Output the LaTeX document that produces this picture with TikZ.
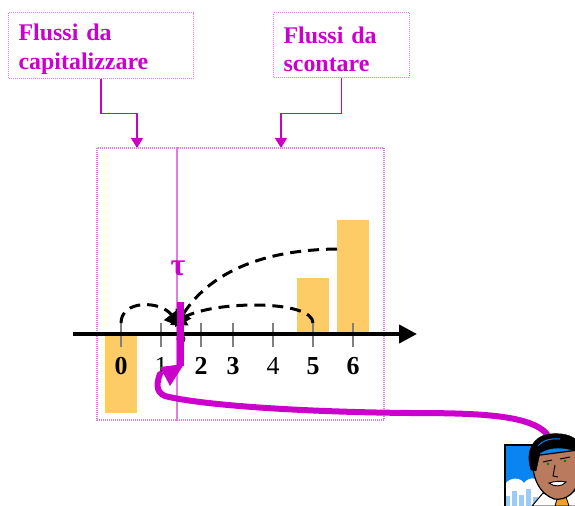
\documentclass[tikz,border=0pt]{standalone}
\usepackage{fontspec}
\setmainfont{Liberation Serif}
\usetikzlibrary{arrows.meta}

\definecolor{viola}{HTML}{CC00CC}
\definecolor{violachiaro}{HTML}{E47BE4}
\definecolor{arancio}{HTML}{FDCC66}
\definecolor{cielo}{HTML}{0A84F0}
\definecolor{azzurro}{HTML}{9CCBF5}
\definecolor{pelle}{HTML}{B97A5E}
\definecolor{cravatta}{HTML}{F0A020}

\tikzset{
  etichetta/.style={draw=violachiaro, line width=1.2bp, dash pattern=on 1bp off 1bp,
    text=viola, font=\fontsize{24}{29}\selectfont\bfseries, align=left,
    anchor=north west, inner xsep=10bp, minimum height=65bp},
  freccia/.style={viola, line width=1.3bp, -{Triangle[length=10bp,width=12bp]}},
  regione/.style={draw=violachiaro, line width=1.2bp, dash pattern=on 1bp off 1bp},
  barra/.style={fill=arancio},
  arco/.style={black, line width=3bp, dash pattern=on 11bp off 7bp,
    -{Triangle[length=16bp,width=18bp]}},
  tacca/.style={gray, line width=2bp},
  numero/.style={font=\fontsize{26}{26}\selectfont},
}

\begin{document}
\begin{tikzpicture}[x=1bp, y=-1bp]
\useasboundingbox (0,0) rectangle (575,506);

% caselle in alto
\node[etichetta, text width=165bp] (cap) at (8,12) {\rule{0pt}{25bp}Flussi da\\capitalizzare};
\node[etichetta, text width=116bp] (sco) at (273,12) {\rule{0pt}{25bp}Flussi da\\scontare};

\coordinate (tcap) at (137,148);
\coordinate (tsco) at (281,148);
\draw[freccia] (cap.south) -- ++(0,35) -| (tcap);
\draw[freccia] (sco.south) -- ++(0,35) -| (tsco);

% flussi
\fill[barra] (105,334) rectangle (137,413);
\fill[barra] (297,278) rectangle (329,334);
\fill[barra] (337,220) rectangle (369,334);

\draw[regione] (97,148) rectangle (177,420);
\draw[regione] (177,148) rectangle (384,420);

% asse dei tempi
\foreach \n/\x/\peso in {0/121/\bfseries, 1/161/\mdseries, 2/201/\bfseries,
    3/233/\bfseries, 4/273/\mdseries, 5/313/\bfseries, 6/353/\bfseries} {
  \coordinate (t\n) at (\x,323);
  \draw[tacca] (t\n) -- (\x,347);
  \node[numero] (n\n) at (\x,366) {\peso\n};
}
\draw[line width=4bp, -{Triangle[length=18bp,width=18bp]}] (73,334) -- (417,334);

\coordinate (c6) at (337,249);
\draw[arco] (t0) .. controls (121,300) and (160,300) .. (181,327);
\draw[arco] (t5) .. controls (313,300) and (215,300) .. (170,325);
\draw[arco] (c6) .. controls (250,250) and (205,280) .. (175,327);

\node[circle, draw=black, fill=arancio, inner sep=0pt, minimum size=8bp, line width=0.8bp] (pt) at (181,339) {};

% tau
\node[text=viola, font=\fontsize{32}{32}\selectfont\bfseries] (tau) at (178,268) {τ};
\draw[viola, line width=7bp] (180,302) -- (180,366);
\fill[viola] (160,367) -- (184,364) -- (170,386) -- cycle;

\coordinate (uomo) at (547,434);
\draw[viola, line width=6bp, line cap=round] (uomo) .. controls (530,415) and (480,413) .. (410,413)
  .. controls (300,412) and (200,405) .. (165,396) .. controls (155,392) and (157,382) .. (160,374);

% omino
\begin{scope}
\clip (0,0) rectangle (575,506);
\fill[cielo] (505,445) rectangle (575,506);
\fill[white] (505,484) .. controls (510,477) and (520,477) .. (524,483)
  .. controls (530,475) and (541,478) .. (542,487) -- (545,506) -- (505,506) -- cycle;
\foreach \bx/\by in {505/496, 512/491, 519/495, 526/489, 533/497} {
  \fill[azzurro] (\bx,\by) rectangle (\bx+5,506);
}
\draw[line width=1.5bp] (505,506) -- (505,445) -- (575,445);
\filldraw[fill=white, line width=1bp] (532,506) -- (543,493) -- (560,499) -- (578,489) -- (578,506) -- cycle;
\filldraw[fill=cravatta, line width=0.8bp] (557,499) -- (566,497) -- (569,506) -- (555,506) -- cycle;
\filldraw[fill=pelle, line width=1.2bp] (533,456) .. controls (531,478) and (540,494) .. (554,499)
  .. controls (566,501) and (578,492) .. (578,478) -- (578,450) -- cycle;
\filldraw[fill=black] (531,470) .. controls (525,452) and (532,436) .. (550,434)
  .. controls (566,432) and (578,438) .. (578,444) -- (578,452)
  .. controls (566,447) and (550,446) .. (540,453) -- (536,471) -- cycle;
\draw[cielo, line width=1bp] (538,446) .. controls (543,440) and (552,438) .. (560,439);
\draw[line width=1bp] (543,462) -- (552,460);
\draw[line width=1bp] (560,459) -- (570,457);
\fill[green!50!black] (548,464) circle (1.3bp);
\fill[green!50!black] (565,461) circle (1.3bp);
\draw[line width=0.9bp] (555,465) -- (553,476) -- (558,477);
\filldraw[fill=white, line width=0.9bp] (549,483) .. controls (555,481) and (562,481) .. (566,482)
  .. controls (562,487) and (554,487) .. (549,483) -- cycle;
\end{scope}
\end{tikzpicture}
\end{document}
